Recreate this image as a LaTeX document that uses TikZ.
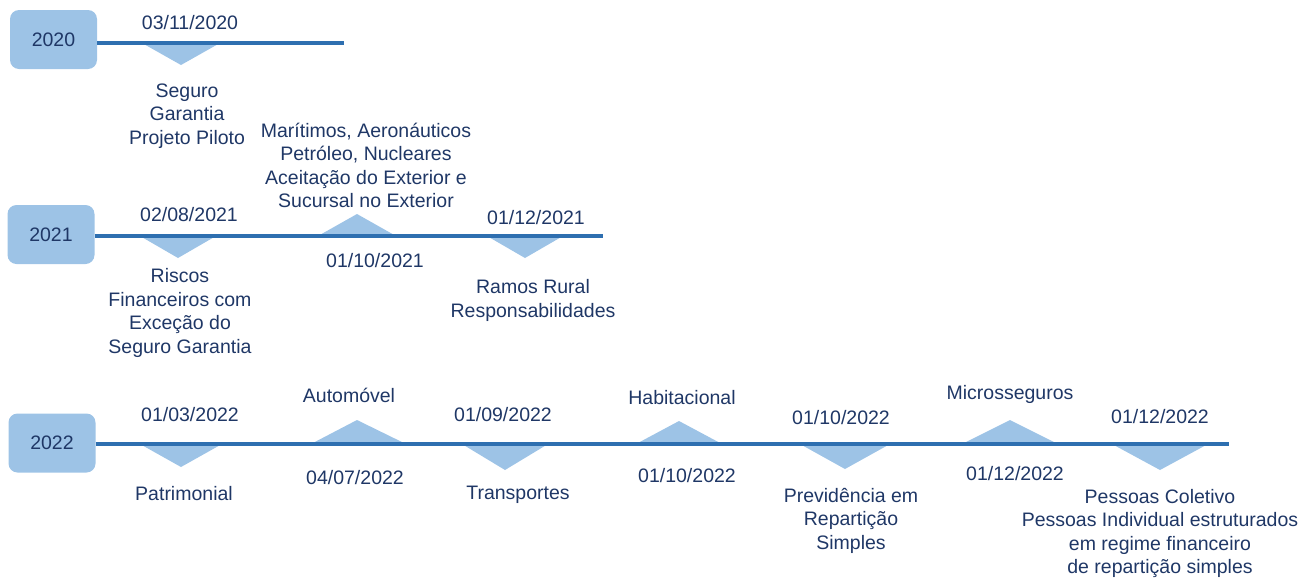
\documentclass[tikz,border=0pt]{standalone}
\usepackage{fontspec}
\setmainfont{Liberation Sans}
\definecolor{navy}{HTML}{1F3766}
\definecolor{tl}{HTML}{2E6FB0}
\definecolor{lb}{HTML}{9DC3E6}
\begin{document}
\begin{tikzpicture}[x=1pt,y=-1pt,
 lbl/.style={text=navy, font=\fontsize{19.5}{23.5}\selectfont, align=center, inner sep=0pt},
 year/.style={fill=lb, rounded corners=9pt, minimum width=87pt, minimum height=59pt, inner sep=0pt, text=navy, font=\fontsize{19.5}{23.5}\selectfont},
 tline/.style={draw=tl, line width=4.5pt},
 tri/.style={fill=lb}]
\useasboundingbox (0,0) rectangle (1304,579);

% ---------- 2020 ----------
\node[year] (y20) at (53.5,39.5) {2020};
\coordinate (e20) at (344,43);
\fill[tri] (142,43) -- (220,43) -- (181,65) -- cycle;
\draw[tline] (y20.east|-e20) -- (e20);
\node[lbl] (d20a) at (190,23) {03/11/2020};
\node[lbl] (t20a) at (187,116) {Seguro\\Garantia\\Projeto Piloto};

% ---------- 2021 ----------
\node[year] (y21) at (51,234.5) {2021};
\coordinate (e21) at (603,236);
\fill[tri] (140,236) -- (216,236) -- (178,258) -- cycle;
\fill[tri] (318,236) -- (396,236) -- (357,214) -- cycle;
\fill[tri] (487,236) -- (563,236) -- (525,258) -- cycle;
\draw[tline] (y21.east|-e21) -- (e21);
\node[lbl] (d21a) at (189,215) {02/08/2021};
\node[lbl] (t21a) at (180,313) {Riscos\\Financeiros com\\Exceção do\\Seguro Garantia};
\node[lbl] (d21b) at (375,261) {01/10/2021};
\node[lbl] (t21b) at (366,165.5) {Marítimos, Aeronáuticos\\Petróleo, Nucleares\\Aceitação do Exterior e\\Sucursal no Exterior};
\node[lbl] (d21c) at (536,218) {01/12/2021};
\node[lbl] (t21c) at (533,300.5) {Ramos Rural\\Responsabilidades};

% ---------- 2022 ----------
\node[year] (y22) at (52,443) {2022};
\coordinate (e22) at (1229,444);
\fill[tri] (140,444) -- (222,444) -- (181,467) -- cycle;
\fill[tri] (311,444) -- (406,444) -- (357,420) -- cycle;
\fill[tri] (462,444) -- (548,444) -- (505,470) -- cycle;
\fill[tri] (636,444) -- (722,444) -- (679,421) -- cycle;
\fill[tri] (800,444) -- (890,444) -- (845,469) -- cycle;
\fill[tri] (962,444) -- (1058,444) -- (1010,420) -- cycle;
\fill[tri] (1112,444) -- (1208,444) -- (1160,470) -- cycle;
\draw[tline] (y22.east|-e22) -- (e22);
\node[lbl] (d22a) at (190,415) {01/03/2022};
\node[lbl] (t22a) at (184,494) {Patrimonial};
\node[lbl] (t22b) at (349,395) {Automóvel};
\node[lbl] (d22b) at (355,478) {04/07/2022};
\node[lbl] (d22c) at (503,415) {01/09/2022};
\node[lbl] (t22c) at (518,495) {Transportes};
\node[lbl] (t22d) at (682,398) {Habitacional};
\node[lbl] (d22d) at (687,476) {01/10/2022};
\node[lbl] (d22e) at (841,418) {01/10/2022};
\node[lbl] (t22e) at (851,520.5) {Previdência em\\Repartição\\Simples};
\node[lbl] (t22f) at (1010,394) {Microsseguros};
\node[lbl] (d22f) at (1015,474) {01/12/2022};
\node[lbl] (d22g) at (1160,417) {01/12/2022};
\node[lbl] (t22g) at (1160,533.5) {Pessoas Coletivo\\Pessoas Individual estruturados\\em regime financeiro\\de repartição simples};
\end{tikzpicture}
\end{document}
